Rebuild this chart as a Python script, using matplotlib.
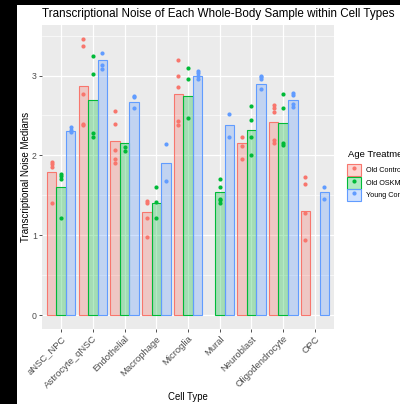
import matplotlib
matplotlib.use('Agg')
import matplotlib.pyplot as plt
import numpy as np
from matplotlib.patches import Patch, Rectangle
from matplotlib.lines import Line2D
from matplotlib.ticker import MultipleLocator

plt.rcParams['font.family'] = ['Liberation Sans', 'DejaVu Sans']

cell_types = ['aNSC_NPC', 'Astrocyte_qNSC', 'Endothelial', 'Macrophage', 'Microglia',
              'Mural', 'Neuroblast', 'Oligodendrocyte', 'OPC']
groups = ['Old Control', 'Old OSKM', 'Young Control']
colors = ['#F8766D', '#00BA38', '#619CFF']

# bar heights (group means), None = group missing for that cell type
old_control_bar = [1.79, 2.87, 2.18, 1.29, 2.77, None, 2.15, 2.42, 1.31]
old_oskm_bar = [1.61, 2.69, 2.15, 1.41, 2.75, 1.54, 2.32, 2.41, None]
young_control_bar = [2.31, 3.19, 2.67, 1.90, 3.00, 2.38, 2.90, 2.69, 1.54]

# individual sample medians
old_control_pts = [
    [1.92, 1.89, 1.86, 1.41],
    [3.46, 3.37, 2.77, 2.39, 2.38],
    [2.56, 2.39, 2.07, 1.96, 1.91],
    [1.43, 1.40, 1.22, 0.98],
    [3.19, 3.00, 2.86, 2.43, 2.38],
    [],
    [2.23, 2.12, 1.95],
    [2.63, 2.59, 2.55, 2.19, 2.16],
    [1.73, 1.64, 1.28, 0.94],
]
old_oskm_pts = [
    [1.77, 1.74, 1.71, 1.22],
    [3.24, 3.02, 2.28, 2.23],
    [2.11, 2.05],
    [1.61, 1.42, 1.22],
    [3.10, 2.96, 2.47],
    [1.70, 1.61, 1.46, 1.44, 1.41],
    [2.62, 2.44, 2.23, 2.00],
    [2.77, 2.59, 2.15, 2.13],
    [],
]
young_control_pts = [
    [2.35, 2.32, 2.29],
    [3.28, 3.13, 3.08],
    [2.75, 2.73, 2.60],
    [2.14, 1.68],
    [3.06, 3.03, 2.99, 2.96],
    [2.52, 2.23],
    [3.00, 2.98, 2.96, 2.83],
    [2.78, 2.76, 2.65, 2.61],
    [1.60, 1.46],
]

bars = [old_control_bar, old_oskm_bar, young_control_bar]
pts = [old_control_pts, old_oskm_pts, young_control_pts]
offsets = [-0.3, 0.0, 0.3]
bar_w = 0.3

fig = plt.figure(figsize=(4, 4.04), dpi=100, facecolor='white')
# black strips along the left and top edges of the screenshot
fig.patches.append(Rectangle((0, 0), 17 / 400, 1, transform=fig.transFigure,
                             facecolor='black', edgecolor='none', zorder=-10))
fig.patches.append(Rectangle((0, 1 - 5 / 404), 1, 5 / 404, transform=fig.transFigure,
                             facecolor='black', edgecolor='none', zorder=-10))

ax = fig.add_axes([42 / 400, 1 - 329 / 404, 292 / 400, 304 / 404])
ax.set_facecolor('#EBEBEB')

x = np.arange(len(cell_types))
for heights, samples, off, col in zip(bars, pts, offsets, colors):
    for i, h in enumerate(heights):
        if h is None:
            continue
        ax.bar(x[i] + off, h, width=bar_w, facecolor=(col, 0.3), edgecolor=col,
               linewidth=0.8, zorder=2)
    for i, vals in enumerate(samples):
        if vals:
            ax.scatter(np.full(len(vals), x[i] + off), vals, s=9, color=col,
                       linewidths=0, zorder=3)

ax.set_xlim(-0.6, len(cell_types) - 0.4)
ax.set_ylim(-0.173, 3.633)
ax.set_yticks([0, 1, 2, 3])
ax.yaxis.set_minor_locator(MultipleLocator(0.5))
ax.set_xticks(x)
ax.set_xticklabels(cell_types, rotation=45, ha='right', va='top', rotation_mode='anchor')

ax.grid(which='major', color='white', linewidth=0.9, zorder=0)
ax.grid(which='minor', axis='y', color='white', linewidth=0.45, zorder=0)
ax.set_axisbelow(True)
for s in ax.spines.values():
    s.set_visible(False)
ax.tick_params(axis='both', which='major', length=2.2, width=0.6, color='#333333',
               labelcolor='#4D4D4D', labelsize=6.3, pad=1.5)
ax.tick_params(axis='x', labelsize=6.8)
ax.tick_params(axis='y', which='minor', length=0)

ax.set_xlabel('Cell Type', fontsize=6.9)
ax.set_ylabel('Transcriptional Noise Medians', fontsize=7)
ax.xaxis.label.set_va('center')
ax.yaxis.label.set_va('center')
ax.xaxis.set_label_coords(0.5, (329 - 397) / 304)
ax.yaxis.set_label_coords((26 - 42) / 292, 0.5)

fig.text(42 / 400, 1 - 14 / 404, 'Transcriptional Noise of Each Whole-Body Sample within Cell Types',
         ha='left', va='center', fontsize=8.4)

# legend (runs off the right edge, as in the original)
fig.text(347.7 / 400, 1 - 154.5 / 404, 'Age Treatment', ha='left', va='center', fontsize=6.8)
handles = []
for col in colors:
    handles.append((Patch(facecolor=(col, 0.3), edgecolor=col, linewidth=0.8),
                    Line2D([], [], marker='o', linestyle='none', markersize=3,
                           markerfacecolor=col, markeredgewidth=0)))
fig.legend(handles, groups, loc='upper left',
           bbox_to_anchor=(347.3 / 400, 1 - 164 / 404), frameon=False,
           fontsize=5.2, handlelength=1.85, handleheight=2.2, labelspacing=0.06,
           handletextpad=0.7, borderpad=0, borderaxespad=0)

fig.savefig('out.png', dpi=100)
